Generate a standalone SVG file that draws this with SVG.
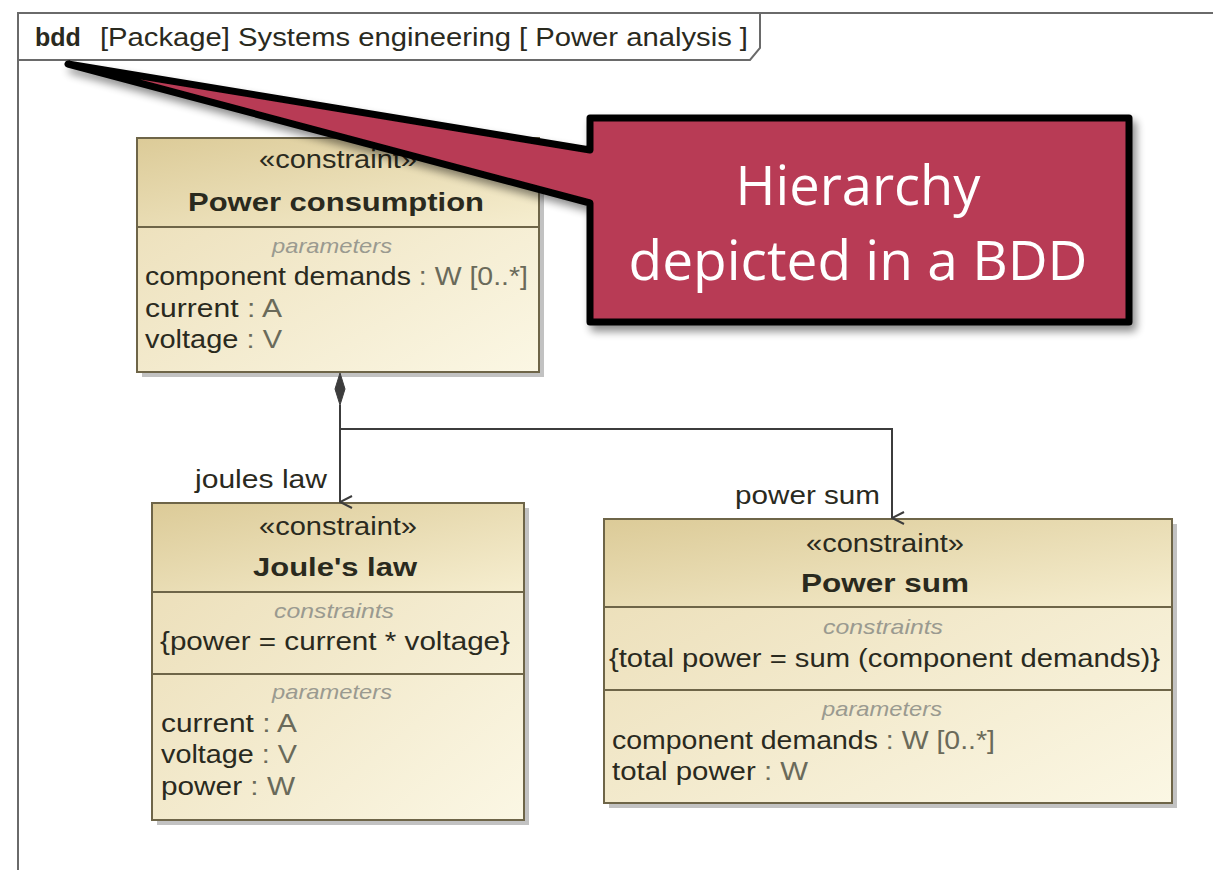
<svg xmlns="http://www.w3.org/2000/svg" width="1213" height="870" viewBox="0 0 1213 870">
<style>
.t{font-family:"Liberation Sans",Arial,sans-serif;font-size:25px;fill:#2a2a1e}
.c{text-anchor:middle}
.b{font-weight:bold}
.i{font-style:italic;fill:#9a9a90;font-size:21px}
.ty{fill:#6a6a5a}
.box{stroke:#6e6548;stroke-width:2;fill:url(#g)}
.hdr{fill:url(#gh)}
.div{stroke:#6e6548;stroke-width:2}
.sh{fill:#9a9a9a;opacity:0.6}
.ln{stroke:#3c3c3c;stroke-width:2;fill:none}
.call{font-family:"Open Sans","Noto Sans",sans-serif;font-size:54px;fill:#ffffff;text-anchor:middle}
</style>
<defs>
<linearGradient id="g" x1="0" y1="0" x2="1" y2="1">
<stop offset="0" stop-color="#eadcb4"/>
<stop offset="1" stop-color="#fbf7e4"/>
</linearGradient>
<linearGradient id="gh" x1="0" y1="0" x2="1" y2="1">
<stop offset="0" stop-color="#dccb98"/>
<stop offset="1" stop-color="#f6eed0"/>
</linearGradient>
<marker id="open" markerWidth="14" markerHeight="14" refX="7" refY="13" orient="auto" markerUnits="userSpaceOnUse">
<path d="M1,1 L7,13 L13,1" fill="none" stroke="#3c3c3c" stroke-width="2"/>
</marker>
<filter id="ds" x="-10%" y="-10%" width="125%" height="130%">
<feGaussianBlur in="SourceAlpha" stdDeviation="4"/>
<feOffset dx="4" dy="6" result="o"/>
<feComponentTransfer><feFuncA type="linear" slope="0.45"/></feComponentTransfer>
<feMerge><feMergeNode/><feMergeNode in="SourceGraphic"/></feMerge>
</filter>
</defs>
<rect width="1213" height="870" fill="#ffffff"/>

<g id="frame">
<path d="M18,870 L18,13 L1213,13" fill="none" stroke="#6a6a6a" stroke-width="2"/>
<path d="M18,60 L750,60 L760,48 L760,13" fill="none" stroke="#6a6a6a" stroke-width="2"/>
<text class="t b" x="35" y="46" font-size="24">bdd</text>
<text class="t" x="100" y="46" font-size="24" textLength="648" lengthAdjust="spacingAndGlyphs">[Package] Systems engineering [ Power analysis ]</text>
</g>

<g id="power-consumption">
<rect class="sh" x="142" y="143" width="402" height="234"/>
<rect class="box" x="137" y="138" width="402" height="234"/>
<rect class="hdr" x="138" y="139" width="400" height="88"/>
<line class="div" x1="137" y1="227" x2="539" y2="227"/>
<text class="t c" x="338" y="168" textLength="158" lengthAdjust="spacingAndGlyphs">«constraint»</text>
<text class="t c b" x="336" y="211" textLength="296" lengthAdjust="spacingAndGlyphs">Power consumption</text>
<text class="t c i" x="332" y="253" textLength="120" lengthAdjust="spacingAndGlyphs">parameters</text>
<text class="t" x="145" y="285" textLength="383" lengthAdjust="spacingAndGlyphs">component demands <tspan class="ty">: W [0..*]</tspan></text>
<text class="t" x="145" y="317" textLength="137" lengthAdjust="spacingAndGlyphs">current <tspan class="ty">: A</tspan></text>
<text class="t" x="145" y="348" textLength="137" lengthAdjust="spacingAndGlyphs">voltage <tspan class="ty">: V</tspan></text>
</g>

<g id="joules-law">
<rect class="sh" x="157" y="508" width="372" height="317"/>
<rect class="box" x="152" y="503" width="372" height="317"/>
<rect class="hdr" x="153" y="504" width="370" height="88"/>
<line class="div" x1="152" y1="592" x2="524" y2="592"/>
<line class="div" x1="152" y1="674" x2="524" y2="674"/>
<text class="t c" x="338" y="535" textLength="158" lengthAdjust="spacingAndGlyphs">«constraint»</text>
<text class="t c b" x="335" y="576" textLength="164" lengthAdjust="spacingAndGlyphs">Joule's law</text>
<text class="t c i" x="334" y="618" textLength="120" lengthAdjust="spacingAndGlyphs">constraints</text>
<text class="t" x="160" y="650" textLength="350" lengthAdjust="spacingAndGlyphs">{power = current * voltage}</text>
<text class="t c i" x="332" y="699" textLength="120" lengthAdjust="spacingAndGlyphs">parameters</text>
<text class="t" x="161" y="732" textLength="136" lengthAdjust="spacingAndGlyphs">current <tspan class="ty">: A</tspan></text>
<text class="t" x="161" y="763" textLength="136" lengthAdjust="spacingAndGlyphs">voltage <tspan class="ty">: V</tspan></text>
<text class="t" x="161" y="795" textLength="134" lengthAdjust="spacingAndGlyphs">power <tspan class="ty">: W</tspan></text>
</g>

<g id="power-sum">
<rect class="sh" x="609" y="524" width="568" height="284"/>
<rect class="box" x="604" y="519" width="568" height="284"/>
<rect class="hdr" x="605" y="520" width="566" height="87"/>
<line class="div" x1="604" y1="607" x2="1172" y2="607"/>
<line class="div" x1="604" y1="690" x2="1172" y2="690"/>
<text class="t c" x="885" y="552" textLength="158" lengthAdjust="spacingAndGlyphs">«constraint»</text>
<text class="t c b" x="885" y="592" textLength="168" lengthAdjust="spacingAndGlyphs">Power sum</text>
<text class="t c i" x="883" y="634" textLength="120" lengthAdjust="spacingAndGlyphs">constraints</text>
<text class="t" x="609" y="667" textLength="551" lengthAdjust="spacingAndGlyphs">{total power = sum (component demands)}</text>
<text class="t c i" x="882" y="716" textLength="120" lengthAdjust="spacingAndGlyphs">parameters</text>
<text class="t" x="612" y="749" textLength="383" lengthAdjust="spacingAndGlyphs">component demands <tspan class="ty">: W [0..*]</tspan></text>
<text class="t" x="612" y="780" textLength="196" lengthAdjust="spacingAndGlyphs">total power <tspan class="ty">: W</tspan></text>
</g>

<g id="connectors">
<path d="M340,373 L345,389 L340,405 L335,389 Z" fill="#3c3c3c" stroke="#3c3c3c" stroke-width="1"/>
<path class="ln" d="M340,405 L340,502" marker-end="url(#open)"/>
<path class="ln" d="M340,429 L892,429 L892,518" marker-end="url(#open)"/>
<text class="t" x="195" y="488" textLength="132" lengthAdjust="spacingAndGlyphs">joules law</text>
<text class="t" x="735" y="504" textLength="145" lengthAdjust="spacingAndGlyphs">power sum</text>
</g>

<g id="callout" filter="url(#ds)">
<path d="M590,118 L1129,118 L1129,322 L590,322 L590,203 L68,64 L590,150 Z" fill="#b83a54" stroke="#000000" stroke-width="7" stroke-linejoin="round"/>
<text class="call" x="858" y="205" textLength="245" lengthAdjust="spacingAndGlyphs">Hierarchy</text>
<text class="call" x="858" y="280" textLength="459" lengthAdjust="spacingAndGlyphs">depicted in a BDD</text>
</g>
</svg>
